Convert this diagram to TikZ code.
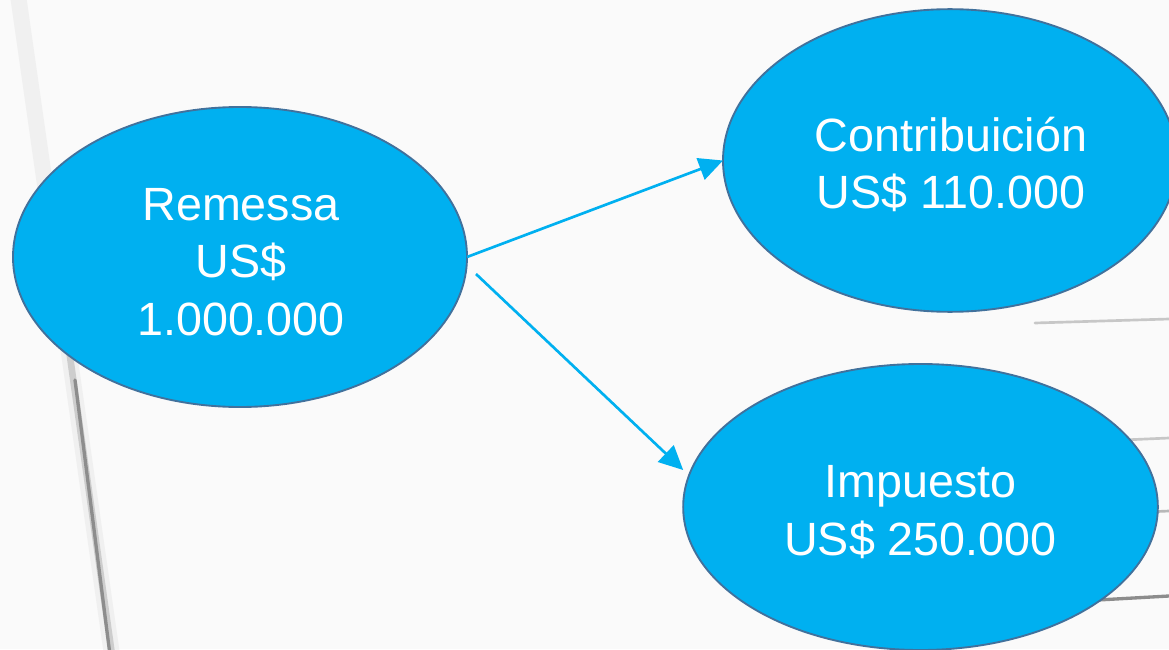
\documentclass[tikz,border=0pt]{standalone}
\usepackage{fontspec}
\setmainfont{Liberation Sans}
\usetikzlibrary{arrows.meta,shapes.geometric}
\definecolor{bubble}{HTML}{00B0F0}
\definecolor{rim}{HTML}{41719C}
\definecolor{bg}{HTML}{FAFAFA}
\tikzset{
  bubblenode/.style={ellipse, fill=bubble, draw=rim, line width=1.4pt,
    inner sep=0pt, outer sep=0pt},
  bubbletext/.style={text=white, align=center, inner sep=0pt,
    font=\fontsize{35}{43}\selectfont},
  flowarrow/.style={draw=bubble, line width=2pt,
    -{Triangle[length=18pt,width=17pt]}},
  texture/.style={line cap=round}
}
\begin{document}
\begin{tikzpicture}[x=0.75pt,y=-0.75pt]
\useasboundingbox (0,0) rectangle (1169,649);
\fill[bg] (0,0) rectangle (1169,649);
% background texture
\draw[texture, black!10, line width=12pt, opacity=0.45] (18,-5) -- (112,655);
\draw[texture, black!30, line width=5pt, opacity=0.55] (55,250) -- (112,655);
\draw[texture, black!55, line width=2.5pt, opacity=0.7] (75,380) -- (110,655);
\draw[texture, black!22, line width=2pt] (1035,323) -- (1169,319);
\draw[texture, black!22, line width=2pt] (1100,441) -- (1169,438);
\draw[texture, black!28, line width=2pt] (1100,514) -- (1169,511);
\draw[texture, black!45, line width=2.5pt] (1080,601) -- (1169,596);
% nodes
\node[bubblenode, minimum width=340.5pt, minimum height=225pt] (rem) at (240,257) {};
\node[bubblenode, minimum width=340.5pt, minimum height=227pt] (contri) at (950,160.5) {};
\node[bubblenode, minimum width=356pt, minimum height=214.5pt] (imp) at (920.5,507) {};
\node[bubbletext] (remtext) at ([shift={(1,5)}]rem.center) {Remessa\\US\$\\1.000.000};
\node[bubbletext] (contritext) at ([shift={(1,4)}]contri.center) {Contribuición\\US\$ 110.000};
\node[bubbletext] (imptext) at ([shift={(0,5)}]imp.center) {Impuesto\\US\$ 250.000};
% connectors
\draw[flowarrow] (rem.east) -- (contri.west);
\draw[flowarrow] ([shift={(9,17)}]rem.east) -- ([shift={(0,-37)}]imp.west);
\end{tikzpicture}
\end{document}
